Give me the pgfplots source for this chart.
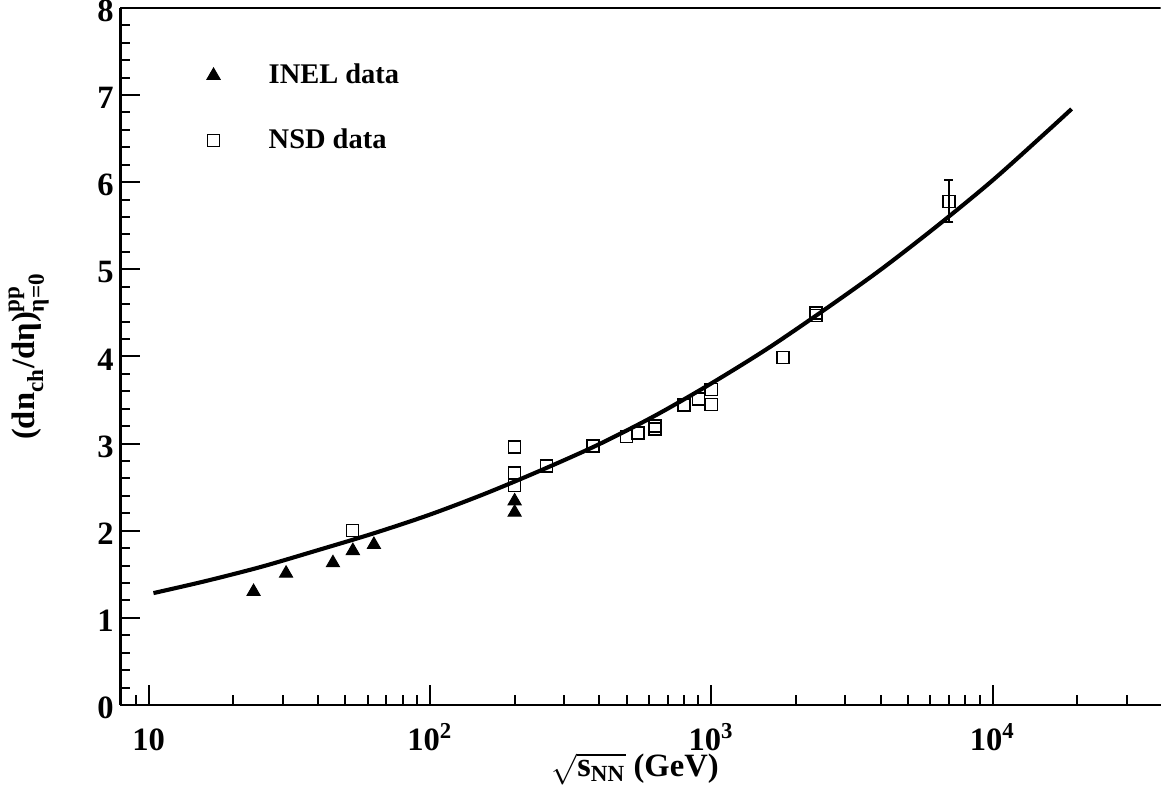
\documentclass[border=0pt]{standalone}
\usepackage{fontspec}
\setmainfont{Liberation Serif}
\usepackage{pgfplots}
\pgfplotsset{compat=1.18}
\begin{document}
\begin{tikzpicture}
\begin{axis}[
  scale only axis, width=406pt, height=272pt,
  xmode=log, xmin=7.92, xmax=39600, ymin=0, ymax=8,
  axis x line*=bottom, axis y line*=left,
  tick align=inside,
  xtick={10,100,1000,10000},
  xticklabels={10,10\textsuperscript{2},10\textsuperscript{3},10\textsuperscript{4}},
  minor xtick={9,20,30,40,50,60,70,80,90,200,300,400,500,600,700,800,900,2000,3000,4000,5000,6000,7000,8000,9000,20000,30000},
  ytick={0,1,2,3,4,5,6,7,8}, minor y tick num=4,
  major tick length=7.8pt, minor tick length=3.9pt,
  every tick/.style={black, line width=0.8pt},
  axis line style={line width=1.05pt},
  tick label style={font=\fontsize{12.7}{14}\selectfont\bfseries},
  /pgf/number format/assume math mode=true,
  xticklabel style={anchor=base, yshift=-17.6pt},
  yticklabel style={inner sep=0pt, xshift=-2.3pt, yshift=-1.2pt},
  xlabel={$\sqrt{\mbox{\fontsize{13.5}{14}\selectfont s}_{\mbox{\fontsize{9}{10}\selectfont NN}}}$ (GeV)},
  xlabel style={font=\fontsize{12.7}{14}\selectfont\bfseries, at={(axis description cs:0.495,-0.092)}, anchor=center},
  ylabel={$\mbox{(dn}_{\mbox{\fontsize{9}{10}\selectfont ch}}\mbox{/dη)}^{\mbox{\fontsize{9}{10}\selectfont pp}}_{\mbox{\fontsize{9}{10}\selectfont η=0}}$},
  ylabel style={font=\fontsize{12.7}{14}\selectfont\bfseries, at={(axis description cs:-0.088,0.5)}, anchor=center, rotate=0},
  legend style={at={(axis description cs:0.083,0.928)}, anchor=north west, draw=none, fill=none, inner sep=0pt,
    font=\fontsize{11.1}{12}\selectfont\bfseries, column sep=17pt, row sep=12.2pt},
  legend cell align=left,
]
\addplot[black, line width=1.6pt, smooth, forget plot] coordinates {
(10.4,1.284) (15.85,1.42) (25.1,1.585) (39.8,1.775) (63.1,1.97) (100,2.185)
(158.5,2.43) (251,2.70) (398,2.99) (631,3.32) (1000,3.69) (1585,4.09)
(2512,4.53) (3981,4.99) (6310,5.49) (10000,6.02) (15849,6.60) (19100,6.84)
};
\addplot[only marks, mark=triangle*, mark size=2.93pt, black, mark options={fill=black}] coordinates {
(23.6,1.30) (30.8,1.51) (45.2,1.63) (53.2,1.77) (63.2,1.84) (200,2.34) (200,2.21)
};
\addlegendentry{INEL data}
\addplot[only marks, mark=square, mark size=2.35pt, black, mark options={line width=0.6pt}]
  coordinates {
(53,2.00) (200,2.96) (200,2.66) (200,2.52) (260,2.74) (380,2.97) (500,3.08)
(550,3.12) (630,3.17) (630,3.20) (800,3.44) (900,3.51) (1000,3.62) (1000,3.45)
(1800,3.99) (2360,4.47) (2360,4.50)
};
\addlegendentry{NSD data}
\addplot[only marks, mark=square, mark size=2.35pt, black, mark options={line width=0.6pt}, forget plot,
  error bars/.cd, y dir=both, y explicit, error bar style={line width=0.8pt, black},
  error mark options={rotate=90, mark size=1.75pt, line width=0.8pt}]
  coordinates {
(7000,5.78) +- (0,0.24)
};
\draw[line width=1.05pt] (rel axis cs:0,1) -- (rel axis cs:1,1);
\end{axis}
\end{tikzpicture}
\end{document}
